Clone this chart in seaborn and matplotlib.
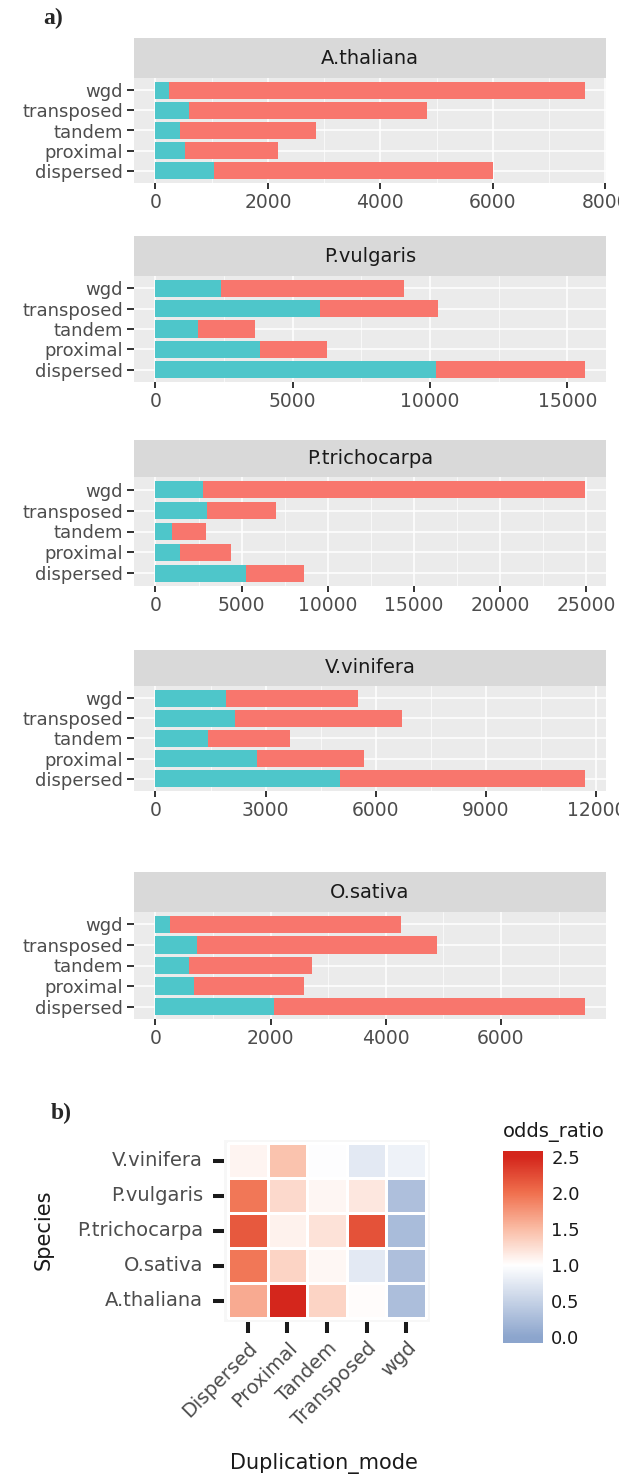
import numpy as np
import pandas as pd
import matplotlib
matplotlib.use("Agg")
import matplotlib.pyplot as plt
import seaborn as sns
from matplotlib.colors import LinearSegmentedColormap
from matplotlib.ticker import MultipleLocator, FuncFormatter, FormatStrFormatter

# ---------------- data ----------------
modes = ["dispersed", "proximal", "tandem", "transposed", "wgd"]

panel_species = ["A.thaliana", "P.vulgaris", "P.trichocarpa", "V.vinifera", "O.sativa"]

# teal (TRUE) segment and red (FALSE) segment, order = modes
ath_true = [1034, 528, 436, 591, 239]
ath_false = [4973, 1645, 2427, 4241, 7393]
pvu_true = [10198, 3790, 1548, 6003, 2387]
pvu_false = [5425, 2474, 2068, 4267, 6654]
ptr_true = [5256, 1417, 960, 2971, 2742]
ptr_false = [3359, 2971, 1965, 3999, 22167]
vvi_true = [5028, 2765, 1441, 2178, 1922]
vvi_false = [6652, 2915, 2232, 4527, 3587]
osa_true = [2066, 675, 586, 716, 245]
osa_false = [5386, 1909, 2141, 4179, 4016]

tick_steps = [2000, 5000, 5000, 3000, 2000]

heat_species = ["A.thaliana", "O.sativa", "P.trichocarpa", "P.vulgaris", "V.vinifera"]
dup_modes = ["Dispersed", "Proximal", "Tandem", "Transposed", "wgd"]
odds_ath = [1.62, 2.50, 1.32, 1.02, 0.28]
odds_osa = [1.95, 1.32, 1.06, 0.76, 0.30]
odds_ptr = [2.15, 1.10, 1.22, 2.20, 0.26]
odds_pvu = [1.95, 1.28, 1.07, 1.18, 0.30]
odds_vvi = [1.08, 1.45, 0.98, 0.76, 0.85]

# ---------------- style ----------------
sns.set_theme(style="white")
plt.rcParams["font.family"] = ["DejaVu Sans"]

RED = "#F8766D"
TEAL = "#4EC6CA"
W, H = 619, 1476
fig = plt.figure(figsize=(W / 100, H / 100), dpi=100)


def rect(l, t, r, b):
    return [l / W, 1 - b / H, (r - l) / W, (b - t) / H]


true_sets = [ath_true, pvu_true, ptr_true, vvi_true, osa_true]
false_sets = [ath_false, pvu_false, ptr_false, vvi_false, osa_false]
layout = [(38, 78, 183), (236, 276, 382), (440, 477, 586), (650, 686, 791), (872, 912, 1019)]
L, R = 134, 606
order = modes[::-1]

for name, tr, fa, step, (st, pt, pb) in zip(panel_species, true_sets, false_sets, tick_steps, layout):
    sax = fig.add_axes(rect(L, st, R, pt))
    sax.set_facecolor("#D9D9D9")
    sax.set_xticks([])
    sax.set_yticks([])
    for s in sax.spines.values():
        s.set_visible(False)
    sax.text(0.5, 0.5, name, ha="center", va="center", fontsize=14,
             color="#1A1A1A", transform=sax.transAxes)

    ax = fig.add_axes(rect(L, pt, R, pb))
    ax.set_facecolor("#EBEBEB")
    df = pd.DataFrame({"mode": modes, "n_true": tr, "n_false": fa})
    df["total"] = df["n_true"] + df["n_false"]
    sns.barplot(data=df, x="total", y="mode", order=order, color=RED, width=0.85,
                saturation=1, linewidth=0, errorbar=None, ax=ax)
    sns.barplot(data=df, x="n_true", y="mode", order=order, color=TEAL, width=0.85,
                saturation=1, linewidth=0, errorbar=None, ax=ax)
    mx = df["total"].max()
    ax.set_xlim(-0.05 * mx, 1.05 * mx)
    ax.set_ylim(4.6, -0.6)
    ax.set_xlabel("")
    ax.set_ylabel("")
    ax.xaxis.set_major_locator(MultipleLocator(step))
    ax.xaxis.set_minor_locator(MultipleLocator(step / 2))
    ax.xaxis.set_major_formatter(FuncFormatter(lambda v, p: f"{int(round(v))}"))
    ax.set_axisbelow(True)
    ax.grid(True, which="major", axis="both", color="white", linewidth=1.1)
    ax.grid(True, which="minor", axis="x", color="white", linewidth=0.5)
    for s in ax.spines.values():
        s.set_visible(False)
    ax.tick_params(axis="x", which="major", bottom=True, length=4, width=1.4,
                   color="#333333", labelsize=13.5, labelcolor="#4D4D4D", pad=3)
    ax.tick_params(axis="x", which="minor", bottom=False, length=0)
    ax.tick_params(axis="y", left=True, length=5, width=1.4, color="#333333",
                   labelsize=13, labelcolor="#4D4D4D", pad=3)

# ---------------- heatmap ----------------
odds_rows = [odds_ath, odds_osa, odds_ptr, odds_pvu, odds_vvi]
df_odds = pd.DataFrame(odds_rows, index=heat_species, columns=dup_modes).iloc[::-1]

vmax = 2.5
anchors = [(0.0, (140, 165, 205)), (1.0, (255, 255, 255)), (1.5, (250, 188, 165)),
           (2.0, (240, 112, 78)), (2.5, (212, 38, 28))]
cmap = LinearSegmentedColormap.from_list(
    "or", [(v / vmax, tuple(c / 255 for c in col)) for v, col in anchors])

hax = fig.add_axes(rect(224, 1139.5, 430, 1321.5))
cax = fig.add_axes(rect(503, 1151, 543, 1343))
sns.heatmap(df_odds, ax=hax, cbar_ax=cax, cmap=cmap, vmin=0, vmax=vmax,
            linewidths=1.0, linecolor="white",
            cbar_kws=dict(extend="both", extendrect=True, extendfrac=0.032,
                          ticks=[0, 0.5, 1.0, 1.5, 2.0, 2.5]))
hax.set_xlim(-0.1, 5.1)
hax.set_ylim(5.1, -0.1)
hax.set_facecolor("#F7F7F7")
hax.set_xlabel("")
hax.set_ylabel("")
for s in hax.spines.values():
    s.set_visible(False)
hax.tick_params(axis="x", bottom=True, length=8, width=2.9, color="#1A1A1A",
                labelsize=14, labelcolor="#4D4D4D", pad=4)
hax.tick_params(axis="y", left=True, length=8, width=2.9, color="#1A1A1A",
                labelsize=14, labelcolor="#4D4D4D", pad=7)
for lab in hax.get_xticklabels():
    lab.set_rotation(45)
    lab.set_ha("right")
    lab.set_va("top")
    lab.set_rotation_mode("anchor")
for lab in hax.get_yticklabels():
    lab.set_rotation(0)
    lab.set_va("center")

cb = hax.collections[0].colorbar
cb.outline.set_visible(False)
cb.ax.yaxis.set_major_formatter(FormatStrFormatter("%.1f"))
cb.ax.tick_params(axis="y", direction="in", color="white", length=8, width=1.3,
                  left=True, right=True, labelleft=False, labelright=True,
                  labelsize=13, labelcolor="#1A1A1A", pad=6)

# ---------------- texts ----------------
fig.text(43 / W, 1 - 18 / H, "a)", ha="left", va="center", fontsize=17,
         fontweight="bold", family="Liberation Serif")
fig.text(51 / W, 1 - 1113 / H, "b)", ha="left", va="center", fontsize=17,
         fontweight="bold", family="Liberation Serif")
fig.text(43.5 / W, 1 - 1230 / H, "Species", rotation=90, ha="center", va="center",
         fontsize=15, color="#1A1A1A")
fig.text(324 / W, 1 - 1463 / H, "Duplication_mode", ha="center", va="center",
         fontsize=15, color="#1A1A1A")
fig.text(503 / W, 1 - 1132 / H, "odds_ratio", ha="left", va="center",
         fontsize=14, color="#1A1A1A")

fig.savefig("out.png", dpi=100, facecolor="white")
